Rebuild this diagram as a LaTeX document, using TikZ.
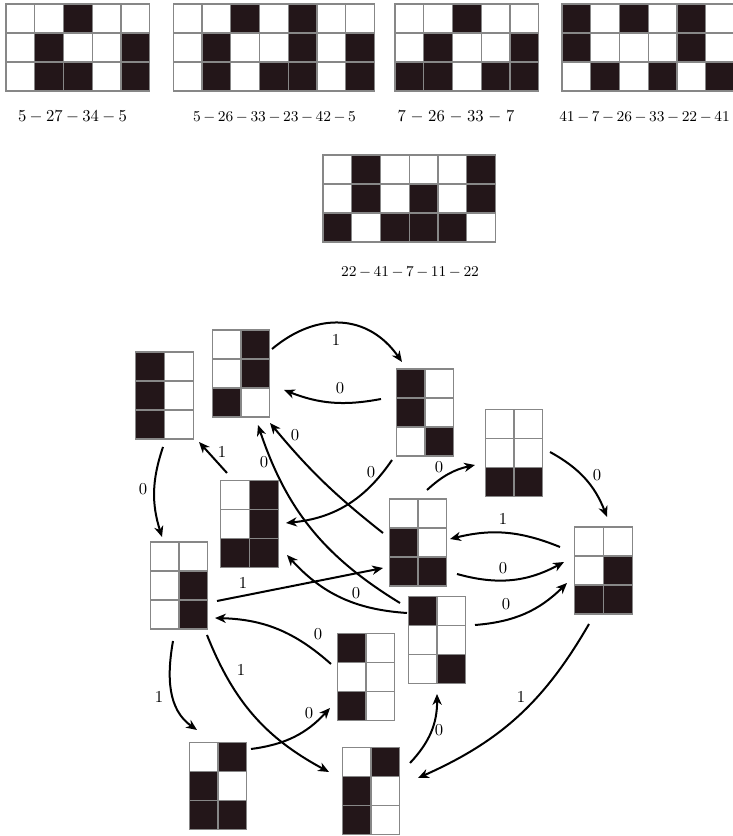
\documentclass[tikz,border=0pt]{standalone}
\usetikzlibrary{arrows.meta}
\definecolor{cellblack}{RGB}{35,22,25}
\definecolor{gridgray}{RGB}{135,135,135}
\tikzset{
  gridline/.style={draw=gridgray, line width=0.8pt},
  gbox/.style={rectangle, inner sep=0pt, outer sep=0pt, minimum width=34.5pt, minimum height=52.2pt},
  edge/.style={-{Stealth[length=6.5pt,width=5.5pt,inset=2pt]}, line width=1.2pt, black},
  elabel/.style={inner sep=0pt, font=\fontsize{10}{12}\selectfont},
  slabel/.style={inner sep=0pt, font=\fontsize{9.2}{11}\selectfont},
}
\newcommand\cellgrid[3]{%
  \foreach \r [count=\j] in {#3}{%
    \foreach \v [count=\i] in \r {%
      \ifnum\v=1 \def\cc{cellblack}\else\def\cc{white}\fi
      \filldraw[gridline, fill=\cc] ({#1+(\i-1)*28.75},{#2-\j*29}) rectangle ++(28.75,29);
    }}}
\newcommand\gnode[4]{%
  \node[gbox] (#1) at (#2,#3) {};
  \cellgrid{#2-28.75}{#3+43.5}{#4}}
\newcommand\seqtext[2]{{\medmuskip=#1mu\relax$#2$}}
\begin{document}
\begin{tikzpicture}[x=0.6pt,y=0.6pt]
\useasboundingbox (0,0) rectangle (733,836);
\clip (0,0) rectangle (733,836);
\fill[white] (0,0) rectangle (733,836);

% top patterns
\cellgrid{6}{832}{{0,0,1,0,0},{0,1,0,0,1},{0,1,1,0,1}}
\cellgrid{173.3}{832}{{0,0,1,0,1,0,0},{0,1,0,0,1,0,1},{0,1,0,1,1,0,1}}
\cellgrid{395}{832}{{0,0,1,0,0},{0,1,0,0,1},{1,1,0,1,1}}
\cellgrid{562}{832}{{1,0,1,0,1,0},{1,0,0,0,1,0},{0,1,0,1,0,1}}
\cellgrid{323}{681}{{0,1,0,0,0,1},{0,1,0,1,0,1},{1,0,1,1,1,0}}

\node[elabel] (t1) at (72.5,719) {\seqtext{3.6}{5-27-34-5}};
\node[slabel] (t2) at (274.5,719) {\seqtext{3}{5-26-33-23-42-5}};
\node[elabel] (t3) at (456,719) {\seqtext{5}{7-26-33-7}};
\node[slabel] (t4) at (644.5,719) {\seqtext{3}{41-7-26-33-22-41}};
\node[slabel] (t5) at (410,564) {\seqtext{3}{22-41-7-11-22}};

% graph nodes
\gnode{N1}{164.5}{440.5}{{1,0},{1,0},{1,0}}
\gnode{N2}{241}{462.5}{{0,1},{0,1},{1,0}}
\gnode{N3}{425}{423.5}{{1,0},{1,0},{0,1}}
\gnode{N4}{514}{383}{{0,0},{0,0},{1,1}}
\gnode{N5}{249.5}{312}{{0,1},{0,1},{1,1}}
\gnode{N6}{179}{250.5}{{0,0},{0,1},{0,1}}
\gnode{N7}{418}{293.5}{{0,0},{1,0},{1,1}}
\gnode{N8}{603.5}{265.5}{{0,0},{0,1},{1,1}}
\gnode{N9}{437}{196}{{1,0},{0,0},{0,1}}
\gnode{N10}{366}{159}{{1,0},{0,0},{1,0}}
\gnode{N11}{218}{50}{{0,1},{1,0},{1,1}}
\gnode{N12}{371}{45}{{0,1},{1,0},{1,0}}

% edges
\draw[edge] ([shift={(31,24.5)}]N2.center) to[out=40,in=125,looseness=1.15] ([shift={(-23,50.5)}]N3.center);
\draw[edge] ([shift={(-44,13.5)}]N3.center) to[bend left=16] ([shift={(43,-16.5)}]N2.center);
\draw[edge] ([shift={(-1.5,-51.5)}]N1.center) to[bend right=18] ([shift={(-17,48.5)}]N6.center);
\draw[edge] ([shift={(-22.5,51)}]N5.center) -- ([shift={(34.5,-46.5)}]N1.center);
\draw[edge] ([shift={(-37,37)}]N9.center) to[bend left=20] ([shift={(17,-51.5)}]N2.center);
\draw[edge] ([shift={(-35,9.5)}]N7.center) to[bend left=6] ([shift={(29,-49.5)}]N2.center);
\draw[edge] ([shift={(-33,-47.5)}]N3.center) to[bend left=25] ([shift={(36.5,1)}]N5.center);
\draw[edge] ([shift={(9,52.5)}]N7.center) to[bend left=15] ([shift={(-39,-12)}]N4.center);
\draw[edge] ([shift={(36,1)}]N4.center) to[bend left=20] ([shift={(3.5,53.5)}]N8.center);
\draw[edge] ([shift={(-43.5,23.5)}]N8.center) to[bend right=18] ([shift={(32,3.5)}]N7.center);
\draw[edge] ([shift={(39,-31.5)}]N7.center) to[bend right=22] ([shift={(-39.5,8.5)}]N8.center);
\draw[edge] ([shift={(38,15)}]N9.center) to[bend right=20] ([shift={(-36.5,-12.5)}]N8.center);
\draw[edge] ([shift={(38,-15.5)}]N6.center) -- ([shift={(-35,-25.5)}]N7.center);
\draw[edge] ([shift={(-30,27)}]N9.center) to[bend left=22] ([shift={(37.5,-31)}]N5.center);
\draw[edge] ([shift={(-35,13)}]N10.center) to[bend right=20] ([shift={(36,-32.5)}]N6.center);
\draw[edge] ([shift={(-6,-55.5)}]N6.center) to[out=260,in=145] ([shift={(-21,56)}]N11.center);
\draw[edge] ([shift={(28,-49.5)}]N6.center) to[bend right=20] ([shift={(-42,19)}]N12.center);
\draw[edge] ([shift={(33,37)}]N11.center) to[bend right=20] ([shift={(-36,-31)}]N10.center);
\draw[edge] ([shift={(39,28)}]N12.center) to[bend right=22] ([shift={(0,-54)}]N9.center);
\draw[edge] ([shift={(-14.5,-53.5)}]N8.center) to[bend left=18] ([shift={(47,13)}]N12.center);

% edge labels
\node[elabel] (l1) at (336,496) {$1$};
\node[elabel] (l2) at (340,448) {$0$};
\node[elabel] (l3) at (143,347) {$0$};
\node[elabel] (l4) at (222,384) {$1$};
\node[elabel] (l5) at (264,374) {$0$};
\node[elabel] (l6) at (295,401) {$0$};
\node[elabel] (l7) at (371,364) {$0$};
\node[elabel] (l8) at (439,369) {$0$};
\node[elabel] (l9) at (597,361) {$0$};
\node[elabel] (l10) at (503,317) {$1$};
\node[elabel] (l11) at (503,268) {$0$};
\node[elabel] (l12) at (506,232) {$0$};
\node[elabel] (l13) at (243,253) {$1$};
\node[elabel] (l14) at (356,243) {$0$};
\node[elabel] (l15) at (318,202) {$0$};
\node[elabel] (l16) at (159,139) {$1$};
\node[elabel] (l17) at (241,166) {$1$};
\node[elabel] (l18) at (309,123) {$0$};
\node[elabel] (l19) at (439,106) {$0$};
\node[elabel] (l20) at (521,139) {$1$};
\end{tikzpicture}
\end{document}
